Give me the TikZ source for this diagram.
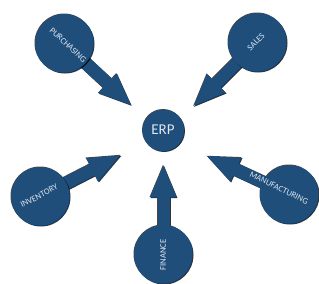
\documentclass[tikz,border=0pt]{standalone}
\usepackage{fontspec}
\setmainfont{Carlito}
\usetikzlibrary{arrows.meta,shadows}
\definecolor{erpblue}{HTML}{1F4E7A}
\definecolor{erptext}{HTML}{DCE6F2}
\tikzset{
  bubble/.style={circle, fill=erpblue, minimum size=59pt, inner sep=0pt,
    drop shadow={shadow xshift=1pt, shadow yshift=-1pt, opacity=0.8, fill=black}},
  hub/.style={bubble, minimum size=42pt},
  blockarrow/.style={line width=13pt, erpblue, -{Triangle[width=24pt,length=34pt]}},
  arrowshadow/.style={line width=13pt, black!80, -{Triangle[width=24pt,length=34pt]},
    transform canvas={xshift=1pt,yshift=-1pt}},
  lbl/.style={text=erptext, font=\fontsize{8.6}{9}\selectfont, inner sep=0.5pt},
}
\begin{document}
\begin{tikzpicture}[x=1pt,y=-1pt]
\useasboundingbox (0,0) rectangle (319,284);
% anchor points
\coordinate (pc) at (64,43);   \coordinate (pt) at (132,106);
\coordinate (sc) at (257,42);  \coordinate (st) at (192,107);
\coordinate (ic) at (40,196);  \coordinate (it) at (122,154);
\coordinate (mc) at (289,194); \coordinate (mt) at (205,155);
\coordinate (fc) at (163,254); \coordinate (ft) at (163,163);
% arrows
\foreach \c/\t in {pc/pt, sc/st, ic/it, mc/mt, fc/ft}{
  \draw[arrowshadow] (\c) -- (\t);
  \draw[blockarrow] (\c) -- (\t);
}
% circles
\node[hub] (erp) at (163,130) {};
\node[bubble] (pur) at (pc) {};
\node[bubble] (sal) at (sc) {};
\node[bubble] (inv) at (ic) {};
\node[bubble] (man) at (mc) {};
\node[bubble] (fin) at (fc) {};
% labels
\node[text=erptext, font=\fontsize{15}{16}\selectfont, inner sep=0pt] (erpl) at (163,130) {ERP};
\node[lbl, rotate=-43] (purl) at (68,45) {PURCHASING};
\node[lbl, rotate=45] (sall) at (256,42) {SALES};
\node[lbl, rotate=28] (invl) at (39,196) {INVENTORY};
\node[lbl, rotate=-26] (manl) at (279,188) {MANUFACTURING};
\node[lbl, rotate=90] (finl) at (163,255) {FINANCE};
\end{tikzpicture}
\end{document}
